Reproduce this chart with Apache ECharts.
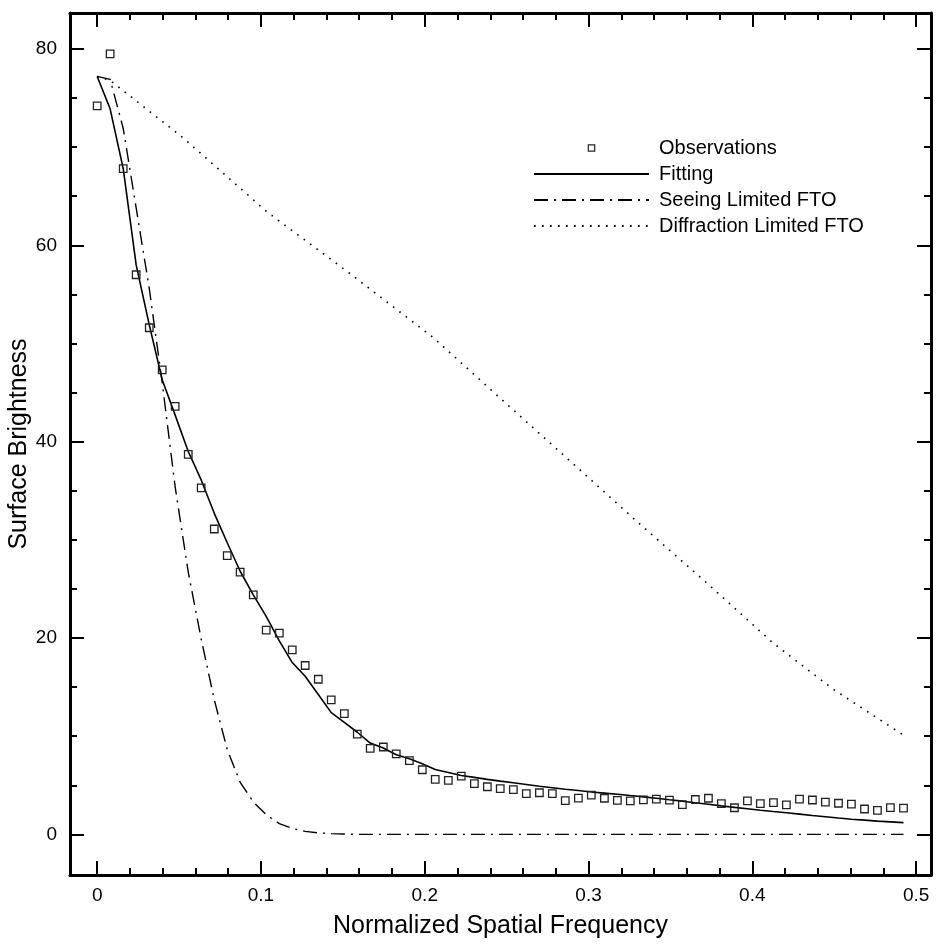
<!DOCTYPE html>
<html>
<head>
<meta charset="utf-8">
<script src="https://cdn.jsdelivr.net/npm/echarts@6/dist/echarts.min.js"></script>
<style>
  html, body { margin: 0; padding: 0; background: #fff; }
  #chart { width: 945px; height: 945px; }
</style>
</head>
<body>
<div id="chart"></div>
<script>
// spatial frequency of each sample
const freq = [
  0, 0.0079, 0.0159, 0.0238, 0.0318, 0.0397, 0.0476, 0.0556, 0.0635, 0.0715,
  0.0794, 0.0873, 0.0953, 0.1032, 0.1112, 0.1191, 0.1270, 0.1350, 0.1429, 0.1509,
  0.1588, 0.1667, 0.1747, 0.1826, 0.1906, 0.1985, 0.2064, 0.2144, 0.2223, 0.2303,
  0.2382, 0.2461, 0.2541, 0.2620, 0.2700, 0.2779, 0.2858, 0.2938, 0.3017, 0.3097,
  0.3176, 0.3255, 0.3335, 0.3414, 0.3494, 0.3573, 0.3652, 0.3732, 0.3811, 0.3891,
  0.3970, 0.4049, 0.4129, 0.4208, 0.4288, 0.4367, 0.4446, 0.4526, 0.4605, 0.4685,
  0.4764, 0.4843, 0.4923,
]
const observations = [
  74.2, 79.5, 67.8, 57.0, 51.6, 47.3, 43.6, 38.7, 35.3, 31.1,
  28.4, 26.7, 24.4, 20.8, 20.5, 18.8, 17.2, 15.8, 13.7, 12.3,
  10.2, 8.75, 8.9, 8.2, 7.5, 6.58, 5.6, 5.5, 5.94, 5.16,
  4.85, 4.65, 4.55, 4.14, 4.24, 4.14, 3.43, 3.7, 4.0, 3.68,
  3.46, 3.42, 3.52, 3.58, 3.48, 3.02, 3.55, 3.68, 3.14, 2.71,
  3.4, 3.12, 3.24, 3.0, 3.58, 3.5, 3.28, 3.17, 3.07, 2.58,
  2.45, 2.73, 2.67,
]
const fitting = [
  77.2, 73.9, 67.8, 58.0, 51.9, 46.3, 42.7, 39.0, 36.1, 32.7,
  29.7, 26.8, 24.4, 22.2, 19.7, 17.5, 16.1, 14.25, 12.4, 11.4,
  10.4, 9.3, 8.8, 8.1, 7.7, 7.2, 6.6, 6.3, 6.0, 5.8,
  5.6, 5.42, 5.25, 5.08, 4.9, 4.75, 4.6, 4.46, 4.32, 4.2,
  4.08, 3.95, 3.82, 3.67, 3.52, 3.38, 3.22, 3.06, 2.9, 2.75,
  2.6, 2.45, 2.32, 2.2, 2.06, 1.92, 1.8, 1.66, 1.54, 1.45,
  1.35, 1.27, 1.19,
]
const seeing = [
  77.2, 76.9, 71.9, 63.8, 55.6, 46.0, 35.4, 26.7, 19.9, 13.7,
  8.65, 5.3, 3.3, 2.0, 1.1, 0.6, 0.3, 0.15, 0.07, 0.03,
  0, 0, 0, 0, 0, 0, 0, 0, 0, 0,
  0, 0, 0, 0, 0, 0, 0, 0, 0, 0,
  0, 0, 0, 0, 0, 0, 0, 0, 0, 0,
  0, 0, 0, 0, 0, 0, 0, 0, 0, 0,
  0, 0, 0,
]
// the dotted curve is read at fewer places
const diffFreq = [0, 0.0079, 0.0528, 0.1037, 0.1545, 0.2052, 0.2459, 0.2876, 0.3293, 0.3709, 0.4126, 0.4492, 0.4923]
const diffraction = [77.2, 76.8, 70.9, 63.4, 57.1, 50.6, 44.45, 38.2, 31.9, 25.8, 19.5, 14.8, 10.1]

const xMajor = [0, 0.1, 0.2, 0.3, 0.4, 0.5]
const xMinor = [0.02, 0.04, 0.06, 0.08, 0.12, 0.14, 0.16, 0.18, 0.22, 0.24, 0.26, 0.28,
  0.32, 0.34, 0.36, 0.38, 0.42, 0.44, 0.46, 0.48]
const yMajor = [0, 20, 40, 60, 80]
const yMinor = [5, 10, 15, 25, 30, 35, 45, 50, 55, 65, 70, 75]

const FONT = '"Liberation Sans", Arial, Helvetica, sans-serif'
const X_MIN = -0.0166
const X_MAX = 0.5091
const Y_MIN = -4.14
const Y_MAX = 83.66

const pairs = (xs, ys) => xs.map((x, i) => [x, ys[i]])

// one axis per side for major ticks, one more for minor ticks
const frameAxis = (position, min, max, ticks, length, line) => ({
  type: 'value',
  position,
  min,
  max,
  splitLine: { show: false },
  axisLine: { show: line, onZero: false, lineStyle: { color: '#000', width: 3 } },
  axisTick: {
    show: true,
    inside: true,
    length,
    customValues: ticks,
    lineStyle: { color: '#000', width: 2 },
  },
  axisLabel: { show: false },
})

const chart = echarts.init(document.getElementById('chart'), null, { renderer: 'canvas' })

const bottom = frameAxis('bottom', X_MIN, X_MAX, xMajor, 14, true)
bottom.axisLabel = { show: true, customValues: xMajor, margin: 11, fontSize: 19, color: '#000', fontFamily: FONT }
bottom.name = 'Normalized Spatial Frequency'
bottom.nameLocation = 'middle'
bottom.nameGap = 39
bottom.nameMoveOverlap = false
bottom.nameTextStyle = { fontSize: 25, color: '#000', fontFamily: FONT }

const left = frameAxis('left', Y_MIN, Y_MAX, yMajor, 14, true)
left.axisLabel = { show: true, customValues: yMajor, margin: 13, fontSize: 19, color: '#000', fontFamily: FONT }
left.name = 'Surface Brightness'
left.nameLocation = 'middle'
left.nameGap = 38
left.nameMoveOverlap = false
left.nameTextStyle = { fontSize: 25, color: '#000', fontFamily: FONT }

const noMark = { color: 'rgba(0,0,0,0)', borderWidth: 0 }

const option = {
  animation: false,
  backgroundColor: '#fff',
  grid: { left: 70, top: 13, right: 14, bottom: 70, containLabel: false, outerBoundsMode: 'none' },
  legend: {
    orient: 'vertical',
    left: 533,
    top: 138,
    padding: 0,
    itemWidth: 115,
    itemHeight: 8,
    itemGap: 6,
    textStyle: { fontSize: 20, lineHeight: 20, color: '#000', fontFamily: FONT, padding: [0, 0, 0, 5] },
    data: [
      {
        name: 'Observations',
        itemStyle: { color: 'rgba(255,255,255,0)', borderColor: '#222', borderWidth: 1.2 },
        lineStyle: { color: 'rgba(0,0,0,0)' },
      },
      { name: 'Fitting', itemStyle: noMark },
      { name: 'Seeing Limited FTO', itemStyle: noMark },
      { name: 'Diffraction Limited FTO', itemStyle: noMark },
    ],
  },
  xAxis: [
    bottom,
    frameAxis('bottom', X_MIN, X_MAX, xMinor, 7, false),
    frameAxis('top', X_MIN, X_MAX, xMajor, 14, true),
    frameAxis('top', X_MIN, X_MAX, xMinor, 7, false),
  ],
  yAxis: [
    left,
    frameAxis('left', Y_MIN, Y_MAX, yMinor, 7, false),
    frameAxis('right', Y_MIN, Y_MAX, yMajor, 14, true),
    frameAxis('right', Y_MIN, Y_MAX, yMinor, 7, false),
  ],
  series: [
    {
      name: 'Diffraction Limited FTO',
      type: 'line',
      data: pairs(diffFreq, diffraction),
      symbol: 'none',
      itemStyle: noMark,
      lineStyle: { color: '#000', width: 1.6, type: [1.6, 6.4] },
    },
    {
      name: 'Seeing Limited FTO',
      type: 'line',
      data: pairs(freq, seeing),
      symbol: 'none',
      itemStyle: noMark,
      lineStyle: { color: '#000', width: 1.4, type: [14, 6, 2, 6] },
    },
    {
      name: 'Fitting',
      type: 'line',
      data: pairs(freq, fitting),
      symbol: 'none',
      itemStyle: noMark,
      lineStyle: { color: '#000', width: 1.6 },
    },
    {
      name: 'Observations',
      type: 'line',
      data: pairs(freq, observations),
      symbol: 'rect',
      symbolSize: 7.5,
      showAllSymbol: true,
      lineStyle: { color: 'rgba(0,0,0,0)', width: 0 },
      itemStyle: { color: 'rgba(255,255,255,0)', borderColor: '#222', borderWidth: 1.3 },
      z: 5,
    },
  ],
}

chart.setOption(option)
</script>
</body>
</html>
